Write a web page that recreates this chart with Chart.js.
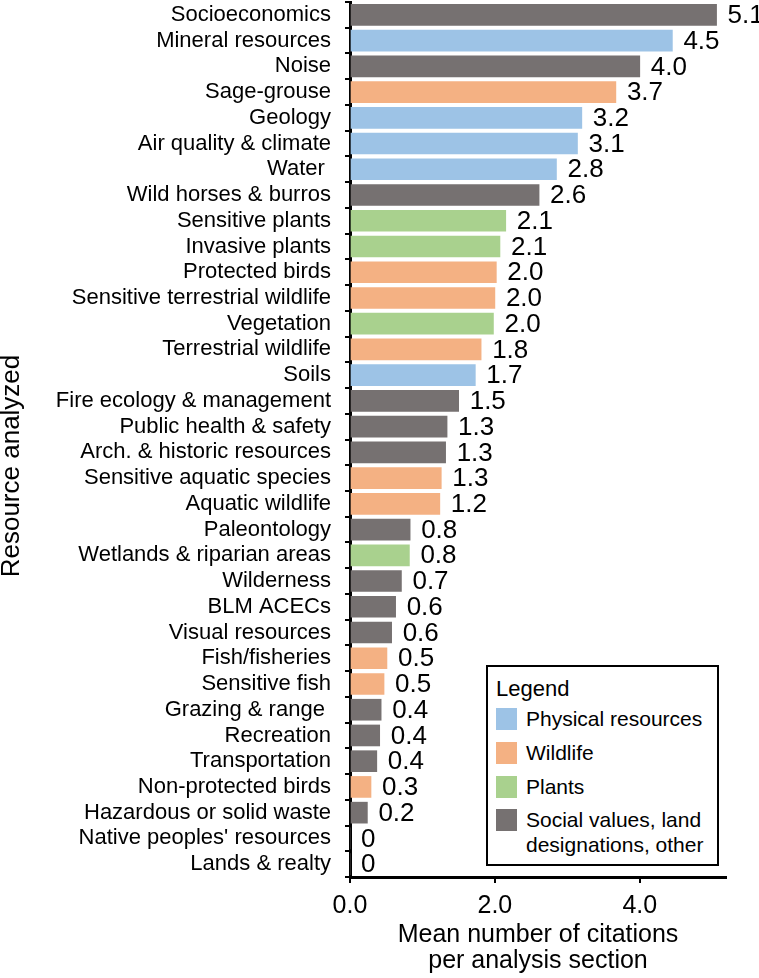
<!DOCTYPE html>
<html>
<head>
<meta charset="utf-8">
<script src="https://cdn.jsdelivr.net/npm/chart.js@4/dist/chart.umd.min.js"></script>
<style>
  body { margin: 0; background: #fff; }
  #wrap { position: relative; width: 759px; height: 978px; }
  #legend {
    position: absolute; left: 486px; top: 665px; width: 229px; height: 197px;
    border: 2px solid #000; background: #fff;
    font-family: "Liberation Sans", Arial, sans-serif; font-size: 21px; color: #000;
  }
  #legend .title { position: absolute; left: 8px; top: 9px; font-size: 22px; }
  #legend .item { position: absolute; left: 8px; height: 22px; line-height: 22px; }
  #legend .sw { position: absolute; left: 0; top: 0; width: 21px; height: 22px; }
  #legend .txt { position: absolute; left: 30px; top: 0; white-space: nowrap; }
</style>
</head>
<body>
<div id="wrap">
  <canvas id="chart" width="759" height="978"></canvas>
  <div id="legend"></div>
</div>
<script>
// resources, top to bottom
const categories = [
  'Socioeconomics', 'Mineral resources', 'Noise', 'Sage-grouse', 'Geology',
  'Air quality & climate', 'Water ', 'Wild horses & burros', 'Sensitive plants',
  'Invasive plants', 'Protected birds', 'Sensitive terrestrial wildlife', 'Vegetation',
  'Terrestrial wildlife', 'Soils', 'Fire ecology & management', 'Public health & safety',
  'Arch. & historic resources', 'Sensitive aquatic species', 'Aquatic wildlife',
  'Paleontology', 'Wetlands & riparian areas', 'Wilderness', 'BLM ACECs',
  'Visual resources', 'Fish/fisheries', 'Sensitive fish', 'Grazing & range ',
  'Recreation', 'Transportation', 'Non-protected birds', 'Hazardous or solid waste',
  "Native peoples' resources", 'Lands & realty'
];
// bar lengths
const values = [
  5.06, 4.45, 4.0, 3.67, 3.2,
  3.14, 2.85, 2.61, 2.15,
  2.07, 2.02, 2.0, 1.98,
  1.81, 1.73, 1.5, 1.34,
  1.32, 1.26, 1.24,
  0.83, 0.82, 0.71, 0.63,
  0.575, 0.51, 0.47, 0.43,
  0.41, 0.37, 0.29, 0.24,
  0, 0
];
// numbers printed next to the bars
const valueLabels = [
  '5.1', '4.5', '4.0', '3.7', '3.2',
  '3.1', '2.8', '2.6', '2.1',
  '2.1', '2.0', '2.0', '2.0',
  '1.8', '1.7', '1.5', '1.3',
  '1.3', '1.3', '1.2',
  '0.8', '0.8', '0.7', '0.6',
  '0.6', '0.5', '0.5', '0.4',
  '0.4', '0.4', '0.3', '0.2',
  '0', '0'
];
// P = physical, W = wildlife, L = plants, S = social/other
const groups = [
  'S', 'P', 'S', 'W', 'P',
  'P', 'P', 'S', 'L',
  'L', 'W', 'W', 'L',
  'W', 'P', 'S', 'S',
  'S', 'W', 'W',
  'S', 'L', 'S', 'S',
  'S', 'W', 'W', 'S',
  'S', 'S', 'W', 'S',
  'S', 'S'
];
const groupNames = ['P', 'W', 'L', 'S'];
const groupLabels = ['Physical resources', 'Wildlife', 'Plants', 'Social values, land designations, other'];
const groupColors = { P: '#9DC3E6', W: '#F4B183', L: '#A9D18E', S: '#767171' };
const xTicks = [0, 2, 4];
const yTitle = 'Resource analyzed';

const FONT = '"Liberation Sans", Arial, sans-serif';
Chart.defaults.font.family = FONT;
Chart.defaults.color = '#000';

// numbers at the end of each bar, plus the y title (sits a bit below centre)
const barLabels = {
  id: 'barLabels',
  afterDatasetsDraw(chart) {
    const ctx = chart.ctx;
    const meta = chart.getDatasetMeta(0);
    ctx.save();
    ctx.font = '26px ' + FONT;
    ctx.fillStyle = '#000';
    ctx.textAlign = 'left';
    ctx.textBaseline = 'middle';
    meta.data.forEach((bar, i) => {
      ctx.fillText(valueLabels[i], bar.x + 11, bar.y + 1);
    });
    ctx.restore();

    ctx.save();
    ctx.font = '26px ' + FONT;
    ctx.fillStyle = '#000';
    ctx.textAlign = 'center';
    ctx.textBaseline = 'middle';
    ctx.translate(12, 466);
    ctx.rotate(-Math.PI / 2);
    ctx.fillText(yTitle, 0, 0);
    ctx.restore();
  }
};

new Chart(document.getElementById('chart'), {
  type: 'bar',
  data: {
    labels: categories,
    datasets: [{
      data: values,
      backgroundColor: groups.map(g => groupColors[g]),
      borderWidth: 0,
      barThickness: 21
    }]
  },
  options: {
    indexAxis: 'y',
    responsive: false,
    animation: false,
    layout: { padding: { top: 2, right: 33, left: 0, bottom: 0 } },
    plugins: { legend: { display: false }, tooltip: { enabled: false } },
    scales: {
      x: {
        min: 0,
        max: 5.19,
        z: 1,
        afterFit(scale) { scale.height = 101; scale.paddingLeft = 0; scale.paddingRight = 0; },
        afterBuildTicks(scale) { scale.ticks = xTicks.map(v => ({ value: v })); },
        grid: { drawOnChartArea: false, color: '#000', lineWidth: 2, tickLength: 6 },
        border: { color: '#000', width: 3 },
        ticks: { font: { size: 25 }, padding: 8, callback: v => v.toFixed(1) },
        title: {
          display: true,
          text: ['Mean number of citations', 'per analysis section'],
          font: { size: 25, lineHeight: 1.04 },
          padding: { top: 0, bottom: 4 }
        }
      },
      y: {
        z: 1,
        afterFit(scale) { scale.width = 350; scale.paddingTop = 0; scale.paddingBottom = 0; },
        grid: { drawOnChartArea: false, color: '#000', lineWidth: 2, tickLength: 5, offset: true },
        border: { color: '#000', width: 3 },
        ticks: { font: { size: 22 }, padding: 14, autoSkip: false }
      }
    }
  },
  plugins: [barLabels]
});

// legend box
const legend = document.getElementById('legend');
const title = document.createElement('div');
title.className = 'title';
title.textContent = 'Legend';
legend.appendChild(title);
const itemTops = [41, 75, 109, 142];
groupNames.forEach((g, i) => {
  const item = document.createElement('div');
  item.className = 'item';
  item.style.top = itemTops[i] + 'px';
  const sw = document.createElement('div');
  sw.className = 'sw';
  sw.style.background = groupColors[g];
  const txt = document.createElement('div');
  txt.className = 'txt';
  if (i === 3) {
    txt.innerHTML = 'Social values, land<br>designations, other';
    txt.style.lineHeight = '25px';
    txt.style.top = '-2px';
  } else {
    txt.textContent = groupLabels[i];
  }
  item.appendChild(sw);
  item.appendChild(txt);
  legend.appendChild(item);
});
</script>
</body>
</html>
